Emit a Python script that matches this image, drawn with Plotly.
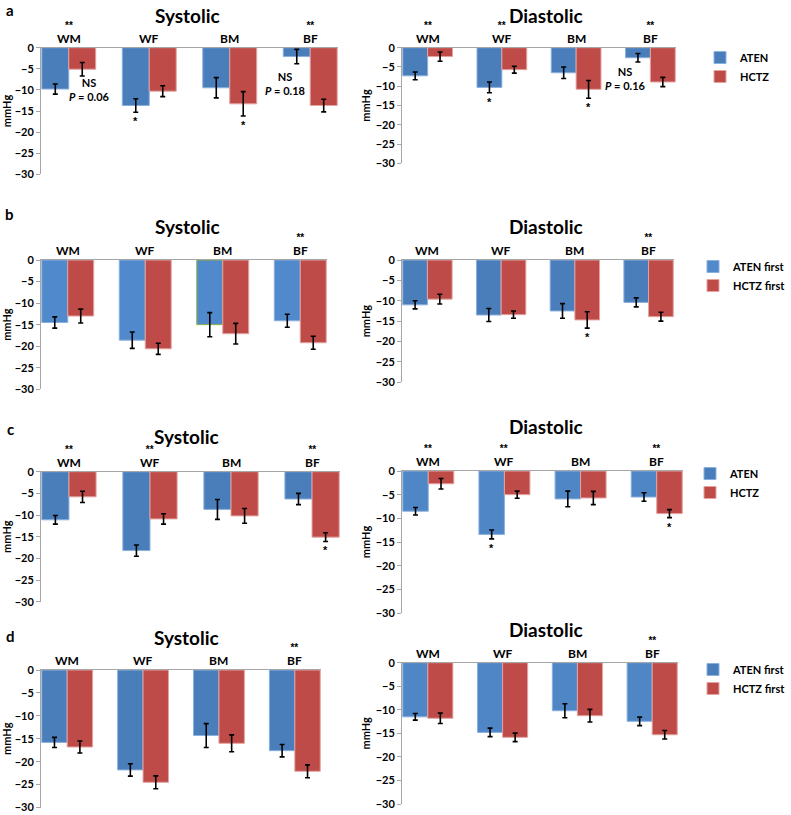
import plotly.graph_objects as go

# ---------------- data ----------------
CATEGORIES = ["WM", "WF", "BM", "BF"]
Y_TICKS = [0, -5, -10, -15, -20, -25, -30]
NAMES_AC = ["ATEN", "HCTZ"]
NAMES_BD = ["ATEN first", "HCTZ first"]

# panel a
A_SYS_ATEN = [-9.8, -13.7, -9.5, -2.1]
A_SYS_ATEN_SE = [1.2, 1.6, 2.4, 1.7]
A_SYS_HCTZ = [-5.1, -10.3, -13.3, -13.7]
A_SYS_HCTZ_SE = [1.6, 1.3, 2.9, 1.5]
A_DIA_ATEN = [-7.3, -10.3, -6.5, -2.6]
A_DIA_ATEN_SE = [1.0, 1.4, 1.5, 1.1]
A_DIA_HCTZ = [-2.3, -5.7, -10.8, -8.9]
A_DIA_HCTZ_SE = [1.2, 0.9, 2.3, 1.2]
A_SYS_GROUP_SIG = ["**", "", "", "**"]
A_DIA_GROUP_SIG = ["**", "**", "", "**"]
A_SYS_ATEN_SIG = ["", "*", "", ""]
A_SYS_HCTZ_SIG = ["", "", "*", ""]
A_DIA_ATEN_SIG = ["", "*", "", ""]
A_DIA_HCTZ_SIG = ["", "", "*", ""]

# panel b
B_SYS_ATEN = [-14.5, -18.6, -15.0, -14.1]
B_SYS_ATEN_SE = [1.3, 1.9, 2.8, 1.5]
B_SYS_HCTZ = [-13.0, -20.6, -17.1, -19.2]
B_SYS_HCTZ_SE = [1.6, 1.3, 2.4, 1.5]
B_DIA_ATEN = [-11.0, -13.5, -12.5, -10.4]
B_DIA_ATEN_SE = [1.0, 1.6, 1.8, 1.1]
B_DIA_HCTZ = [-9.6, -13.4, -14.7, -13.9]
B_DIA_HCTZ_SE = [1.2, 0.9, 2.0, 1.1]
B_SYS_GROUP_SIG = ["", "", "", "**"]
B_DIA_GROUP_SIG = ["", "", "", "**"]
B_SYS_ATEN_SIG = ["", "", "", ""]
B_SYS_HCTZ_SIG = ["", "", "", ""]
B_DIA_ATEN_SIG = ["", "", "", ""]
B_DIA_HCTZ_SIG = ["", "", "*", ""]

# panel c
C_SYS_ATEN = [-11.1, -18.2, -8.7, -6.3]
C_SYS_ATEN_SE = [1.0, 1.3, 2.3, 1.3]
C_SYS_HCTZ = [-5.8, -10.9, -10.2, -15.1]
C_SYS_HCTZ_SE = [1.3, 1.2, 1.7, 1.0]
C_DIA_ATEN = [-8.5, -13.4, -5.9, -5.5]
C_DIA_ATEN_SE = [0.8, 0.95, 1.65, 0.9]
C_DIA_HCTZ = [-2.7, -5.0, -5.7, -9.0]
C_DIA_HCTZ_SE = [1.1, 0.75, 1.4, 0.85]
C_SYS_GROUP_SIG = ["**", "**", "", "**"]
C_DIA_GROUP_SIG = ["**", "**", "", "**"]
C_SYS_ATEN_SIG = ["", "", "", ""]
C_SYS_HCTZ_SIG = ["", "", "", "*"]
C_DIA_ATEN_SIG = ["", "*", "", ""]
C_DIA_HCTZ_SIG = ["", "", "", "*"]

# panel d
D_SYS_ATEN = [-15.8, -21.8, -14.3, -17.6]
D_SYS_ATEN_SE = [1.1, 1.35, 2.6, 1.35]
D_SYS_HCTZ = [-16.8, -24.5, -16.0, -22.1]
D_SYS_HCTZ_SE = [1.3, 1.4, 1.85, 1.4]
D_DIA_ATEN = [-11.5, -14.8, -10.2, -12.45]
D_DIA_ATEN_SE = [0.7, 0.9, 1.5, 0.9]
D_DIA_HCTZ = [-11.8, -15.85, -11.25, -15.3]
D_DIA_HCTZ_SE = [1.1, 0.9, 1.35, 0.9]
D_SYS_GROUP_SIG = ["", "", "", "**"]
D_DIA_GROUP_SIG = ["", "", "", "**"]
D_SYS_ATEN_SIG = ["", "", "", ""]
D_SYS_HCTZ_SIG = ["", "", "", ""]
D_DIA_ATEN_SIG = ["", "", "", ""]
D_DIA_HCTZ_SIG = ["", "", "", ""]

# P-value notes: (panel index, category position, value, text)
NOTES = [
    (0, 0.255, -9.9, "NS<br><i>P</i> = 0.06"),
    (0, 2.69, -8.6, "NS<br><i>P</i> = 0.18"),
    (1, 2.67, -7.9, "NS<br><i>P</i> = 0.16"),
]

# ---------------- layout geometry (pixels) ----------------
W, H = 791, 815
FONT = "Lato, 'Open Sans', sans-serif"
STAR_FONT = "'Liberation Sans', Arial, sans-serif"
RED = "#BE4B48"
RED_EDGE = "#E3A3A1"


def px(x):
    return x / W


def py(y):
    return 1 - y / H


PANELS = [
    dict(aten=A_SYS_ATEN, aten_se=A_SYS_ATEN_SE, hctz=A_SYS_HCTZ, hctz_se=A_SYS_HCTZ_SE,
         gsig=A_SYS_GROUP_SIG, asig=A_SYS_ATEN_SIG, hsig=A_SYS_HCTZ_SIG,
         x0=41, x1=338, yt=47.7, yb=174.3, title="Systolic", tx=187, ty=15,
         blue="#4A7EBB", leg="legend", names=NAMES_AC, show=True),
    dict(aten=A_DIA_ATEN, aten_se=A_DIA_ATEN_SE, hctz=A_DIA_HCTZ, hctz_se=A_DIA_HCTZ_SE,
         gsig=A_DIA_GROUP_SIG, asig=A_DIA_ATEN_SIG, hsig=A_DIA_HCTZ_SIG,
         x0=402, x1=676, yt=47.7, yb=163.3, title="Diastolic", tx=546, ty=15,
         blue="#4A7EBB", leg="legend", names=NAMES_AC, show=False),
    dict(aten=B_SYS_ATEN, aten_se=B_SYS_ATEN_SE, hctz=B_SYS_HCTZ, hctz_se=B_SYS_HCTZ_SE,
         gsig=B_SYS_GROUP_SIG, asig=B_SYS_ATEN_SIG, hsig=B_SYS_HCTZ_SIG,
         x0=41, x1=327, yt=260, yb=389.3, title="Systolic", tx=187, ty=227,
         blue="#5089CC", leg="legend2", names=NAMES_BD, show=True),
    dict(aten=B_DIA_ATEN, aten_se=B_DIA_ATEN_SE, hctz=B_DIA_HCTZ, hctz_se=B_DIA_HCTZ_SE,
         gsig=B_DIA_GROUP_SIG, asig=B_DIA_ATEN_SIG, hsig=B_DIA_HCTZ_SIG,
         x0=402, x1=674, yt=260, yb=382.3, title="Diastolic", tx=546, ty=227,
         blue="#4A7EBB", leg="legend2", names=NAMES_BD, show=False),
    dict(aten=C_SYS_ATEN, aten_se=C_SYS_ATEN_SE, hctz=C_SYS_HCTZ, hctz_se=C_SYS_HCTZ_SE,
         gsig=C_SYS_GROUP_SIG, asig=C_SYS_ATEN_SIG, hsig=C_SYS_HCTZ_SIG,
         x0=41, x1=340, yt=471.7, yb=601.7, title="Systolic", tx=186, ty=436,
         blue="#4A7EBB", leg="legend3", names=NAMES_AC, show=True),
    dict(aten=C_DIA_ATEN, aten_se=C_DIA_ATEN_SE, hctz=C_DIA_HCTZ, hctz_se=C_DIA_HCTZ_SE,
         gsig=C_DIA_GROUP_SIG, asig=C_DIA_ATEN_SIG, hsig=C_DIA_HCTZ_SIG,
         x0=402, x1=683, yt=471, yb=613, title="Diastolic", tx=546, ty=426,
         blue="#4F86C6", leg="legend3", names=NAMES_AC, show=False),
    dict(aten=D_SYS_ATEN, aten_se=D_SYS_ATEN_SE, hctz=D_SYS_HCTZ, hctz_se=D_SYS_HCTZ_SE,
         gsig=D_SYS_GROUP_SIG, asig=D_SYS_ATEN_SIG, hsig=D_SYS_HCTZ_SIG,
         x0=41, x1=321, yt=670, yb=807.5, title="Systolic", tx=186, ty=637,
         blue="#4A7EBB", leg="legend4", names=NAMES_BD, show=True),
    dict(aten=D_DIA_ATEN, aten_se=D_DIA_ATEN_SE, hctz=D_DIA_HCTZ, hctz_se=D_DIA_HCTZ_SE,
         gsig=D_DIA_GROUP_SIG, asig=D_DIA_ATEN_SIG, hsig=D_DIA_HCTZ_SIG,
         x0=402, x1=678, yt=662.7, yb=804, title="Diastolic", tx=546, ty=629,
         blue="#4F86C6", leg="legend4", names=NAMES_BD, show=False),
]

# legend placement: (x px, anchor, top y px)
LEGENDS = {
    "legend": dict(x=700, xanchor="left", y=43),
    "legend2": dict(x=W, xanchor="right", y=252),
    "legend3": dict(x=690, xanchor="left", y=459),
    "legend4": dict(x=W, xanchor="right", y=655),
}

PANEL_LETTERS = [("a", 10, 0), ("b", 9, 204), ("c", 10, 419), ("d", 10, 626)]

BARGAP = 0.33
HALF = (1 - BARGAP) / 4  # offset of each bar centre from the category centre
XRANGE = [-0.345, 3.345]

fig = go.Figure()
layout = dict(
    width=W, height=H,
    margin=dict(l=0, r=0, t=0, b=0, autoexpand=False),
    paper_bgcolor="white", plot_bgcolor="white",
    barmode="group", bargap=BARGAP, bargroupgap=0,
    font=dict(family=FONT, color="black"),
    annotations=[],
)
ann = layout["annotations"]

for k, p in enumerate(PANELS, start=1):
    xa = "x" if k == 1 else f"x{k}"
    ya = "y" if k == 1 else f"y{k}"
    xkey = "xaxis" if k == 1 else f"xaxis{k}"
    ykey = "yaxis" if k == 1 else f"yaxis{k}"

    blue_edges = ["#8AB0DD"] * 4
    if k == 3:
        blue_edges[2] = "#8DB33F"

    fig.add_trace(go.Bar(
        x=CATEGORIES, y=p["aten"], name=p["names"][0],
        marker=dict(color=p["blue"], line=dict(color=blue_edges, width=1)),
        error_y=dict(type="data", array=p["aten_se"], color="black", thickness=1.6, width=2.5),
        xaxis=xa, yaxis=ya, legend=p["leg"], showlegend=p["show"],
        legendgroup=p["leg"] + "a",
    ))
    fig.add_trace(go.Bar(
        x=CATEGORIES, y=p["hctz"], name=p["names"][1],
        marker=dict(color=RED, line=dict(color=RED_EDGE, width=1)),
        error_y=dict(type="data", array=p["hctz_se"], color="black", thickness=1.6, width=2.5),
        xaxis=xa, yaxis=ya, legend=p["leg"], showlegend=p["show"],
        legendgroup=p["leg"] + "h",
    ))

    layout[xkey] = dict(
        domain=[px(p["x0"]), px(p["x1"])], anchor=ya, type="category",
        range=XRANGE, side="top", showline=True, linecolor="#A6A6A6", linewidth=1,
        showticklabels=False, ticks="", showgrid=False, zeroline=False, fixedrange=True,
        automargin=False,
    )
    layout[ykey] = dict(
        domain=[py(p["yb"]), py(p["yt"])], anchor=xa, range=[-30, 0],
        tickvals=Y_TICKS, ticks="outside", ticklen=4, tickcolor="#A6A6A6",
        showline=True, linecolor="#A6A6A6", linewidth=1, showgrid=False, zeroline=False,
        tickfont=dict(family=FONT, size=11, color="black", weight="bold"),
        title=dict(text="mmHg", standoff=2,
                   font=dict(family=FONT, size=11, color="black", weight="bold")),
        fixedrange=True, automargin=False,
    )

    # title
    ann.append(dict(text=p["title"], x=px(p["tx"]), y=py(p["ty"]), xref="paper", yref="paper",
                    xanchor="center", yanchor="middle", showarrow=False,
                    font=dict(family=FONT, size=19, color="black", weight="bold")))
    # category labels, with the group significance stars stacked above them
    for i, c in enumerate(CATEGORIES):
        label = f"<span style='font-size:12px'><b>{c}</b></span>"
        if p["gsig"][i]:
            label = (f"<span style=\"font-size:10px;font-family:{STAR_FONT};font-weight:bold\">"
                     f"{p['gsig'][i]}</span><br>" + label)
        ann.append(dict(text=label, x=i, y=0, xref=xa, yref=ya, yshift=1,
                        xanchor="center", yanchor="bottom", showarrow=False, borderpad=0,
                        font=dict(family=FONT, size=10.5, color="black")))
        for sig, vals, ses, off in ((p["asig"], p["aten"], p["aten_se"], -HALF),
                                    (p["hsig"], p["hctz"], p["hctz_se"], HALF)):
            if sig[i]:
                ann.append(dict(text=sig[i], x=i + off, y=vals[i] - ses[i], xref=xa, yref=ya,
                                yshift=-1, xanchor="center", yanchor="top", showarrow=False,
                                font=dict(family=STAR_FONT, size=11, color="black",
                                          weight="bold")))

for (pi, xv, yv, txt) in NOTES:
    k = pi + 1
    xa = "x" if k == 1 else f"x{k}"
    ya = "y" if k == 1 else f"y{k}"
    ann.append(dict(text=txt, x=xv, y=yv, xref=xa, yref=ya, xanchor="center", yanchor="middle",
                    showarrow=False,
                    font=dict(family=FONT, size=11, color="black", weight="bold")))

for (letter, lx, ly) in PANEL_LETTERS:
    ann.append(dict(text=letter, x=px(lx), y=py(ly), xref="paper", yref="paper",
                    xanchor="center", yanchor="top", showarrow=False, borderpad=0,
                    font=dict(family=FONT, size=15, color="black", weight="bold")))

for key, pos in LEGENDS.items():
    layout[key] = dict(
        x=px(pos["x"]), y=py(pos["y"]), xanchor=pos["xanchor"], yanchor="top",
        bgcolor="rgba(0,0,0,0)", borderwidth=0, traceorder="normal",
        tracegroupgap=0,
        font=dict(family=FONT, size=11, color="black", weight="bold"),
    )

fig.update_layout(**layout)
fig.write_html("out.html", config={"displayModeBar": False},
               post_script="document.body.style.margin='0px';")
